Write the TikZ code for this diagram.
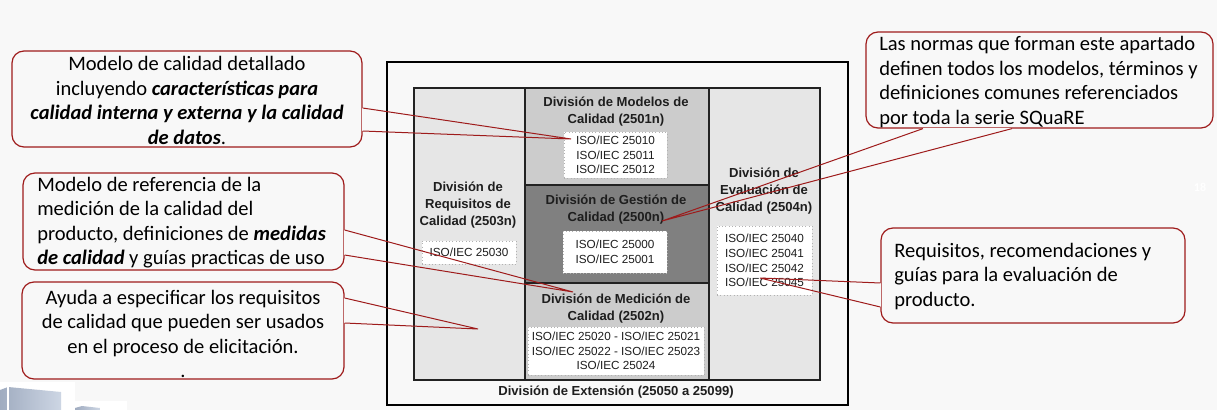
\documentclass[tikz,border=0pt]{standalone}
\usepackage{fontspec}
\setmainfont{Carlito}
\newfontfamily\arialf{Liberation Sans}
\usetikzlibrary{calc}
\definecolor{bgc}{HTML}{F8F8F8}
\definecolor{redc}{RGB}{158,27,27}
\definecolor{gridc}{HTML}{222222}
\definecolor{lightc}{HTML}{E6E6E6}
\definecolor{midc}{HTML}{CCCCCC}
\definecolor{darkc}{HTML}{808080}
\definecolor{txtc}{HTML}{1E1E1E}
\definecolor{cubeA}{RGB}{160,172,192}
\definecolor{cubeB}{RGB}{205,214,228}
\begin{document}
\begin{tikzpicture}[x=0.75pt,y=-0.75pt,
  callout/.style={draw=redc, line width=0.9pt, rounded corners=9pt, inner sep=0pt},
  ctext/.style={inner sep=0pt, font=\fontsize{15.4}{18.4}\selectfont, text=black},
  ptr/.style={draw=redc, line width=0.75pt},
  gapfill/.style={draw=bgc, line width=1.6pt},
  cell/.style={draw=gridc, line width=1.5pt, anchor=north west, inner sep=0pt},
  ttl/.style={font=\arialf\bfseries\fontsize{9.8}{12.75}\selectfont, align=center, text=txtc, inner sep=0pt},
  iso/.style={fill=white, draw=black!30, dotted, line width=0.5pt,
    font=\arialf\fontsize{8.8}{11}\selectfont, align=center, inner sep=0pt, text=txtc}]
\useasboundingbox (0,0) rectangle (1217,410);
\fill[bgc] (0,0) rectangle (1217,410);

% bottom-left decorative cubes
\fill[white] (0,382) rectangle (75,410);
\shade[left color=cubeA, right color=cubeB] (0,390) -- (8,387) -- (61,392) -- (61,410) -- (0,410) -- cycle;
\draw[white, line width=0.8pt] (8,387) -- (8,410);
\fill[white] (75,401) rectangle (127,410);
\shade[left color=cubeA, right color=cubeB] (75,410) -- (75,408) -- (82,406) -- (100,408) -- (100,410) -- cycle;

% slide number (faint)
\node[text=white, font=\bfseries\fontsize{9}{10}\selectfont] (num) at (1200,187) {18};

% outer frame
\node[draw=black, line width=1.5pt, fill=bgc, anchor=north west, inner sep=0pt,
  minimum width=345.75pt, minimum height=257.25pt] (ext) at (386,61) {};

% cells
\node[cell, fill=lightc, minimum width=83.25pt, minimum height=219pt] (req) at (413,87) {};
\node[cell, fill=lightc, minimum width=83.25pt, minimum height=219pt] (eva) at (708,87) {};
\node[cell, fill=midc, minimum width=138pt, minimum height=72.75pt] (mod) at (524,87) {};
\node[cell, fill=darkc, minimum width=138pt, minimum height=73.5pt] (ges) at (524,184) {};
\node[cell, fill=midc, minimum width=138pt, minimum height=72.75pt] (med) at (524,282) {};

% titles
\node[ttl] (reqT) at (468,205) {División de\\Requisitos de\\Calidad (2503n)};
\node[ttl] (modT) at (616,111.5) {División de Modelos de\\Calidad (2501n)};
\node[ttl] (gesT) at (616,210) {División de Gestión de\\Calidad (2500n)};
\node[ttl] (medT) at (616,308.5) {División de Medición de\\Calidad (2502n)};
\node[ttl] (evaT) at (764,191.5) {División de\\Evaluación de\\Calidad (2504n)};
\node[ttl] (extT) at (616,392) {División de Extensión (25050 a 25099)};

% ISO boxes
\node[iso, minimum width=70.5pt, minimum height=17.25pt] (reqI) at (469,252.5) {ISO/IEC 25030};
\node[iso, minimum width=77.25pt, minimum height=34.5pt] (modI) at (615.5,155) {ISO/IEC 25010\\ISO/IEC 25011\\ISO/IEC 25012};
\node[iso, minimum width=78pt, minimum height=31.5pt] (gesI) at (615,252) {ISO/IEC 25000\\ISO/IEC 25001};
\node[iso, minimum width=132pt, minimum height=36pt] (medI) at (616,351) {ISO/IEC 25020 - ISO/IEC 25021\\ISO/IEC 25022 - ISO/IEC 25023\\ISO/IEC 25024};
\node[iso, minimum width=71.25pt, minimum height=51.75pt] (evaI) at (764.5,260.5) {ISO/IEC 25040\\ISO/IEC 25041\\ISO/IEC 25042\\ISO/IEC 25045};

% callout boxes
\node[callout, minimum width=262.5pt, minimum height=72pt] (c1) at (187,99) {};
\node[callout, minimum width=240.75pt, minimum height=72.75pt] (c2) at (183.5,221.5) {};
\node[callout, minimum width=241.5pt, minimum height=72.75pt] (c3) at (183,330.5) {};
\node[callout, minimum width=260.25pt, minimum height=72pt] (c4) at (1039.5,80) {};
\node[callout, minimum width=228pt, minimum height=71.25pt] (c5) at (1033,275.5) {};

% callout texts
\node[ctext, align=center] (c1t) at (187,100.5)
 {Modelo de calidad detallado\\ incluyendo \textbf{\textit{características para}}\\ \textbf{\textit{calidad interna y externa y la calidad}}\\ \textbf{\textit{de datos}}.};
\node[ctext, align=left, anchor=west] (c2t) at (37,222.5)
 {Modelo de referencia de la\\ medición de la calidad del\\ producto, definiciones de \textbf{\textit{medidas}}\\ \textbf{\textit{de calidad}} y guías practicas de uso};
\node[ctext, align=center] (c3t) at (183,334)
 {Ayuda a especificar los requisitos\\ de calidad que pueden ser usados\\ en el proceso de elicitación.\\ .};
\node[ctext, align=left, anchor=west] (c4t) at (879,82)
 {Las normas que forman este apartado\\ definen todos los modelos, términos y\\ definiciones comunes referenciados\\ por toda la serie SQuaRE};
\node[ctext, align=left, anchor=west] (c5t) at (894,276.5)
 {Requisitos, recomendaciones y\\ guías para la evaluación de\\ producto.};

% pointer coordinates
\coordinate (c1a) at (c1.east |- 0,108);
\coordinate (c1b) at (c1.east |- 0,131);
\coordinate (t1) at (571,139);
\coordinate (c2a) at (c2.east |- 0,230);
\coordinate (c2b) at (c2.east |- 0,255);
\coordinate (t2) at (573,292);
\coordinate (c3a) at (c3.east |- 0,298);
\coordinate (c3b) at (c3.east |- 0,323);
\coordinate (t3) at (478,329);
\coordinate (c4a) at (923,0 |- c4.south);
\coordinate (c4b) at (1012,0 |- c4.south);
\coordinate (t4) at (662,221);
\coordinate (c5a) at (c5.west |- 0,283);
\coordinate (c5b) at (c5.west |- 0,307);
\coordinate (t5) at (760,278);

% gaps in callout borders
\draw[gapfill] (c1a) -- (c1b);
\draw[gapfill] (c2a) -- (c2b);
\draw[gapfill] (c3a) -- (c3b);
\draw[gapfill] (c4a) -- (c4b);
\draw[gapfill] (c5a) -- (c5b);

% pointers
\draw[ptr] (c1a) -- (t1) -- (c1b);
\draw[ptr] (c2a) -- (t2) -- (c2b);
\draw[ptr] (c3a) -- (t3) -- (c3b);
\draw[ptr] (c4a) -- (t4) -- (c4b);
\draw[ptr] (c5a) -- (t5) -- (c5b);
\end{tikzpicture}
\end{document}
